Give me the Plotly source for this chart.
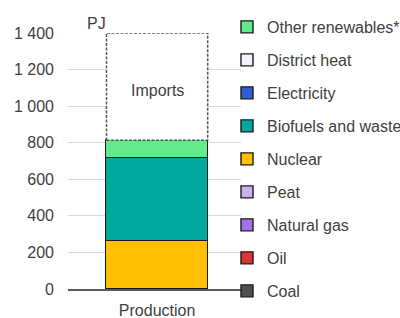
import plotly.graph_objects as go

category = ["Production"]
series_names = ["Coal", "Oil", "Natural gas", "Peat", "Nuclear",
                "Biofuels and waste", "Electricity", "District heat", "Other renewables*"]
series_values = [0, 0, 0, 0, 265, 452, 0, 0, 97]
series_colors = ["#505050", "#e03232", "#a373e6", "#c9aef0", "#ffc000",
                 "#00a99d", "#2f5fcf", "#eef6fb", "#63ea8c"]
imports_value = 586
yticks = [0, 200, 400, 600, 800, 1000, 1200, 1400]
ytick_labels = ["0", "200", "400", "600", "800", "1 000", "1 200", "1 400"]

BAR_W = 0.585
FONT = "Liberation Sans, Arial, sans-serif"
TXT = "#404040"
FS = 16

fig = go.Figure()
for i, (n, v, c) in enumerate(zip(series_names, series_values, series_colors)):
    fig.add_trace(go.Bar(
        x=category, y=[v], name=n, width=BAR_W,
        marker=dict(color=c, line=dict(color="#1a1a1a", width=1.4)),
        legendgroup=n, legendrank=100 - i,
    ))

base = sum(series_values)
fig.add_trace(go.Bar(
    x=category, y=[imports_value], name="Imports", width=BAR_W,
    marker=dict(color="white", line=dict(width=0)),
    showlegend=False, hoverinfo="skip",
))
fig.add_shape(type="rect", xref="x", yref="y",
              x0=-BAR_W / 2, x1=BAR_W / 2, y0=base, y1=base + imports_value,
              line=dict(color="#555555", width=1.5, dash="3px,1.5px"))
fig.add_annotation(text="Imports", xref="x", yref="y", x=0, y=base + imports_value / 2,
                   yshift=-4, showarrow=False,
                   font=dict(size=FS, color=TXT, family=FONT))

# plot area spans y=33..289 px inside a grid area of 5..313 px
fig.add_annotation(text="PJ", xref="paper", yref="paper", x=0.10, y=0.975,
                   showarrow=False, font=dict(size=FS, color=TXT, family=FONT))

fig.update_layout(
    barmode="stack",
    width=400, height=318,
    margin=dict(l=68, r=159, t=5, b=5, autoexpand=False),
    paper_bgcolor="white", plot_bgcolor="white",
    font=dict(family=FONT, size=FS, color=TXT),
    showlegend=True,
    legend=dict(x=0.919, xanchor="left", y=0.984, yanchor="top",
                traceorder="grouped", tracegroupgap=9.2,
                font=dict(size=FS, color=TXT, family=FONT),
                itemwidth=30, bgcolor="rgba(0,0,0,0)"),
    bargap=0,
)
fig.update_xaxes(range=[-0.515, 0.485], showline=True, linecolor="#595959", linewidth=2,
                 ticks="", ticklabelstandoff=6, tickfont=dict(size=FS, color=TXT))
fig.update_yaxes(range=[0, 1400], domain=[24 / 308, 280 / 308],
                 tickvals=yticks, ticktext=ytick_labels,
                 showgrid=True, gridcolor="#d9d9d9", gridwidth=1, zeroline=False,
                 ticklabelstandoff=13, tickfont=dict(size=FS, color=TXT))

fig.write_html("out.html", config={"displayModeBar": False},
               post_script="document.body.style.margin='0';document.body.style.overflow='hidden';")
